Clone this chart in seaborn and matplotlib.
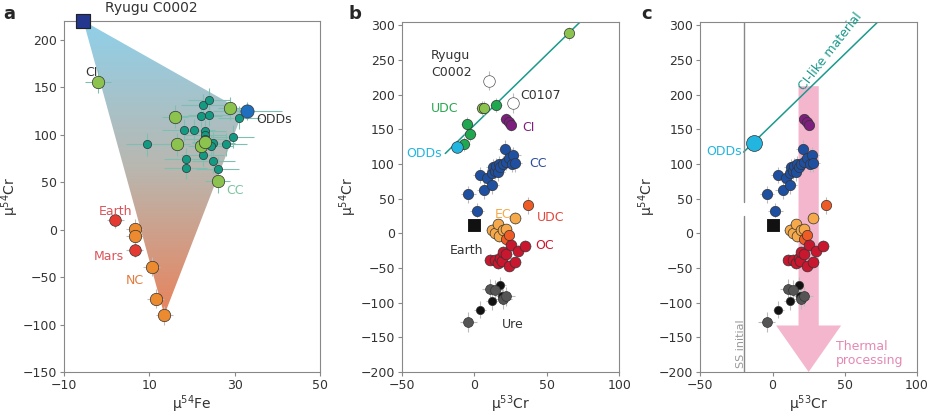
import numpy as np
import pandas as pd
import matplotlib
matplotlib.use("Agg")
import matplotlib.pyplot as plt
from matplotlib.patches import Polygon, FancyArrow
import seaborn as sns

sns.set_style("white")
plt.rcParams['font.family'] = ['DejaVu Sans']

# ---- panel a data (mu54Fe, mu54Cr) ----
a_cc_small_x = [9.5, 18, 20.5, 18.5, 18.5, 22.5, 22, 24, 24, 23, 23, 23, 25, 24.5, 22.5, 25, 26, 28, 29.5, 31]
a_cc_small_y = [90, 105, 105, 74, 65, 131, 120, 137, 121, 104, 100, 96, 91, 88, 79, 72, 64, 90, 98, 118]
a_cc_big_x = [-2, 16, 16.5, 22, 23, 29, 26]
a_cc_big_y = [156, 119, 90, 88, 92, 128, 51]
a_odd = (33, 125)
a_ryugu = (-5.5, 220)
a_red_x = [2, 6.5]
a_red_y = [10, -21]
a_nc_x = [6.5, 6.5, 10.5, 11.5, 13.5]
a_nc_y = [1, -7, -39, -73, -90]

# ---- panel b/c data (mu53Cr, mu54Cr) ----
udc_green_x = [-5, -3, -7, 15]
udc_green_y = [157, 143, 129, 185]
udc_lgreen_x = [5, 7, 65]
udc_lgreen_y = [181, 181, 288]
odd_bc = (-12, 124)
open_x = [10, 27]
open_y = [220, 188]
ci_x = [22, 24, 25]
ci_y = [165, 160, 156]
cc_x = [-4, 2, 4, 7, 9, 12, 12, 13, 14, 15, 16, 17, 18, 20, 21, 22, 24, 26, 27, 28]
cc_y = [56, 32, 84, 62, 80, 69, 87, 95, 90, 97, 88, 100, 95, 100, 122, 103, 108, 100, 113, 101]
ec_x = [12, 14, 16, 17, 20, 22, 28]
ec_y = [5, 0, 13, -4, 5, 6, 22]
udc_or_x = [37, 22, 24]
udc_or_y = [40, -9, -2]
oc_x = [11, 14, 16, 18, 19, 20, 22, 24, 25, 28, 30, 35]
oc_y = [-38, -38, -43, -35, -40, -27, -30, -47, -17, -42, -25, -18]
ure_k_x = [4, 12, 18, 19]
ure_k_y = [-110, -98, -75, -90]
ure_g_x = [-4, 11, 14, 20, 22]
ure_g_y = [-128, -80, -82, -95, -91]
earth_bc = (0, 12)

fig = plt.figure(figsize=(9.3, 4.17), dpi=100)
axa = fig.add_axes([0.069, 0.108, 0.275, 0.842])
axb = fig.add_axes([0.432, 0.108, 0.234, 0.840])
axc = fig.add_axes([0.753, 0.108, 0.233, 0.840])

txt = '#333333'
for ax in (axa, axb, axc):
    for s in ax.spines.values():
        s.set_color('#888888')
        s.set_linewidth(0.8)
    ax.tick_params(axis='both', labelsize=9, colors=txt, length=3, direction='out', pad=2,
                   left=True, bottom=True, color='#888888')


def pts(ax, x, y, color, size=55, xerr=3, yerr=12, ecol='#bbbbbb', marker='o', edge='#333333', z=3):
    ax.errorbar(x, y, xerr=xerr, yerr=yerr, fmt='none', ecolor=ecol, elinewidth=0.8, zorder=z - 1)
    sns.scatterplot(x=list(x), y=list(y), ax=ax, color=color, s=size, marker=marker,
                    edgecolor=edge, linewidth=0.5, zorder=z, legend=False)


# ---------- a ----------
axa.set_xlim(-10, 50)
axa.set_ylim(-150, 220)
poly = Polygon([a_ryugu, (32, 125), (13.5, -90)], closed=True, facecolor='none', edgecolor='none')
axa.add_patch(poly)
grad = np.linspace(0, 1, 256).reshape(-1, 1)
cmap = matplotlib.colors.LinearSegmentedColormap.from_list('g', ['#e8835c', '#b9b7b0', '#8fd0ea'])
im = axa.imshow(grad, extent=[-10, 50, -90, 220], origin='lower', cmap=cmap, aspect='auto', zorder=1)
im.set_clip_path(poly)
pts(axa, a_cc_small_x, a_cc_small_y, '#139a83', size=35, xerr=5, yerr=12, ecol='#7fbfb2')
pts(axa, a_cc_big_x, a_cc_big_y, '#8cc34f', size=80, xerr=3, yerr=12, ecol='#7fbfb2')
pts(axa, [a_odd[0]], [a_odd[1]], '#1f6fc0', size=90, xerr=8, yerr=10, ecol='#7fbfb2')
pts(axa, a_red_x, a_red_y, '#e53a32', size=70, xerr=2, yerr=8)
pts(axa, a_nc_x, a_nc_y, '#ec8a30', size=80, xerr=2, yerr=10)
sns.scatterplot(x=[a_ryugu[0]], y=[a_ryugu[1]], ax=axa, marker='s', s=110, color='#23378f',
                edgecolor='#222222', clip_on=False, zorder=5, legend=False)
axa.text(-0.5, 226, 'Ryugu C0002', fontsize=10, color=txt, va='bottom')
axa.text(-5, 162, 'CI', fontsize=9, color=txt)
axa.text(35, 112, 'ODDs', fontsize=9, color=txt)
axa.text(28, 38, 'CC', fontsize=9, color='#7cc4a0')
axa.text(-2, 15, 'Earth', fontsize=9, color='#d9545a')
axa.text(-3, -32, 'Mars', fontsize=9, color='#d9545a')
axa.text(4.5, -57, 'NC', fontsize=9, color='#e47a3c')
axa.set_xticks([-10, 10, 30, 50])
axa.set_yticks([-150, -100, -50, 0, 50, 100, 150, 200])
axa.set_xlabel('μ$^{54}$Fe', fontsize=10, color=txt, labelpad=1)
axa.set_ylabel('μ$^{54}$Cr', fontsize=10, color=txt, labelpad=1)


def common_bc(ax):
    ax.set_xlim(-50, 100)
    ax.set_ylim(-200, 305)
    ax.set_xticks([-50, 0, 50, 100])
    ax.set_yticks(range(-200, 301, 50))
    ax.set_xlabel('μ$^{53}$Cr', fontsize=10, color=txt, labelpad=1)
    ax.set_ylabel('μ$^{54}$Cr', fontsize=10, color=txt, labelpad=1)
    pts(ax, ci_x, ci_y, '#7e1f7f', xerr=4, yerr=8)
    pts(ax, cc_x, cc_y, '#1f4fa0', xerr=5, yerr=12)
    pts(ax, ec_x, ec_y, '#f5a94a', size=60, xerr=4, yerr=8)
    pts(ax, udc_or_x, udc_or_y, '#ee5b25', xerr=3, yerr=12)
    pts(ax, oc_x, oc_y, '#c8172f', size=60, xerr=4, yerr=8)
    pts(ax, ure_k_x, ure_k_y, '#111111', size=35, xerr=4, yerr=12)
    pts(ax, ure_g_x, ure_g_y, '#555555', size=50, xerr=6, yerr=14)
    sns.scatterplot(x=[earth_bc[0]], y=[earth_bc[1]], ax=ax, marker='s', s=100, color='#111111',
                    zorder=5, legend=False)


# ---------- b ----------
common_bc(axb)
lx = np.array([-20, 73])
axb.plot(lx, 115 + (lx + 20) * 2.04, color='#1a9a8c', lw=1.1, zorder=1)
pts(axb, udc_green_x, udc_green_y, '#1fa84f', xerr=4, yerr=10)
pts(axb, udc_lgreen_x, udc_lgreen_y, '#8cc34f', xerr=4, yerr=10)
pts(axb, [odd_bc[0]], [odd_bc[1]], '#21b5e0', size=70, xerr=3, yerr=6)
pts(axb, open_x, open_y, 'white', size=70, xerr=3, yerr=14, edge='#555555')
axb.text(-30, 223, 'Ryugu\nC0002', fontsize=9, color=txt, linespacing=1.4, va='bottom', ha='left')
axb.text(32, 193, 'C0107', fontsize=9, color=txt)
axb.text(-30, 175, 'UDC', fontsize=9, color='#28a84f')
axb.text(33, 147, 'CI', fontsize=9, color='#7e1f7f')
axb.text(-47, 110, 'ODDs', fontsize=9, color='#21b5e0')
axb.text(38, 95, 'CC', fontsize=9, color='#2a4c9a')
axb.text(14, 22, 'EC', fontsize=9, color='#f5a94a')
axb.text(43, 17, 'UDC', fontsize=9, color='#e0473a')
axb.text(42, -23, 'OC', fontsize=9, color='#c8172f')
axb.text(-17, -30, 'Earth', fontsize=9, color=txt)
axb.text(19, -137, 'Ure', fontsize=9, color=txt)

# ---------- c ----------
axc.axvline(-20, ymin=0, ymax=(25 + 200) / 505, color='#888888', lw=1)
axc.axvline(-20, ymin=(45 + 200) / 505, ymax=1, color='#888888', lw=1)
axc.add_patch(FancyArrow(25, 212, 0, -412, width=14, head_width=45, head_length=67,
                         length_includes_head=True, color='#f4b6cd', lw=0, zorder=1))
common_bc(axc)
axc.plot(lx, 117 + (lx + 20) * 2.02, color='#1a9a8c', lw=1.1, zorder=1)
pts(axc, [odd_bc[0] - 1], [odd_bc[1] + 6], '#21b5e0', size=130, xerr=0, yerr=0)
axc.text(22, 205, 'CI-like material', fontsize=9, color='#1a9a8c', rotation=52, rotation_mode='anchor')
axc.text(-46, 113, 'ODDs', fontsize=9, color='#21b5e0')
axc.text(-25, -195, 'SS initial', fontsize=8, color='#999999', rotation=90, va='bottom')
axc.text(44, -188, 'Thermal\nprocessing', fontsize=9, color='#e389b4', linespacing=1.1)

fig.text(0.003, 0.955, 'a', fontsize=13, fontweight='bold')
fig.text(0.375, 0.955, 'b', fontsize=13, fontweight='bold')
fig.text(0.690, 0.955, 'c', fontsize=13, fontweight='bold')
fig.savefig('out.png', dpi=100)
